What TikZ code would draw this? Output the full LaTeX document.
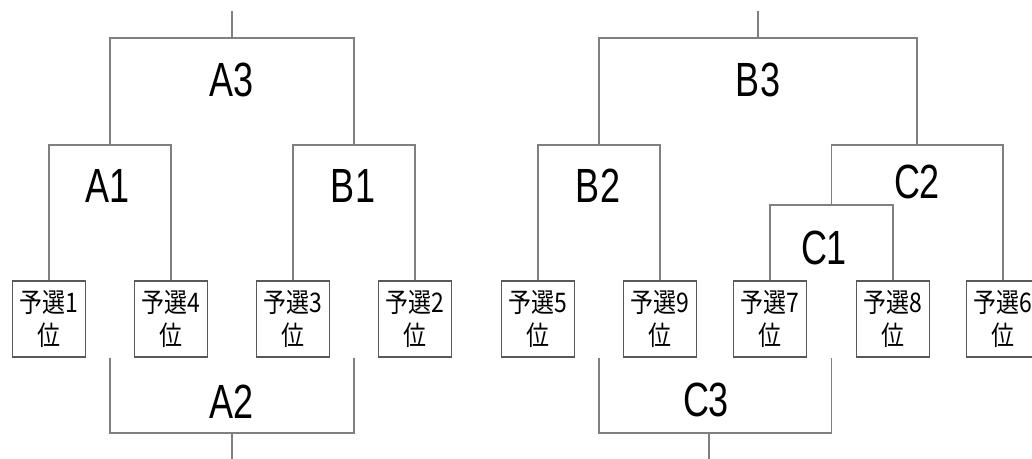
\documentclass[tikz,border=0pt]{standalone}
\usepackage{fontspec}
\newfontfamily\jpfont[FakeStretch=0.85]{Noto Sans CJK JP}
\newfontfamily\latfont[FakeStretch=0.75]{Liberation Sans}
\usetikzlibrary{positioning}

\begin{document}
\begin{tikzpicture}[
  x=0.5pt, y=-0.5pt,
  seed/.style={draw=black!65, line width=0.55pt, minimum width=36.5pt, minimum height=38pt, inner sep=0pt, align=center, font=\jpfont\fontsize{13.5}{16.5}\selectfont},
  lbl/.style={inner sep=0pt, font=\latfont\fontsize{24}{24}\selectfont},
  line/.style={draw=black!50, line width=0.7pt}
]
  \useasboundingbox (0,0) rectangle (1032,459);

  \node[seed] (s1) at (49,319) {予選1\\位};
  \node[seed] (s4) at (171,319) {予選4\\位};
  \node[seed] (s3) at (293,319) {予選3\\位};
  \node[seed] (s2) at (415,319) {予選2\\位};
  \node[seed] (s5) at (538,319) {予選5\\位};
  \node[seed] (s9) at (660,319) {予選9\\位};
  \node[seed] (s7) at (770,319) {予選7\\位};
  \node[seed] (s8) at (893,319) {予選8\\位};
  \node[seed] (s6) at (1003,319) {予選6\\位};

  \coordinate (a1) at (110,145);
  \coordinate (b1) at (354,145);
  \coordinate (a3) at (232,38);
  \coordinate (a2) at (232,433);
  \coordinate (topa) at (232,11);
  \coordinate (bota) at (232,459);

  \coordinate (b2) at (599,145);
  \coordinate (c1) at (831.5,205);
  \coordinate (c2) at (917,145);
  \coordinate (b3) at (758,38);
  \coordinate (c3) at (709,433);
  \coordinate (topb) at (758,11);
  \coordinate (botb) at (709,459);

  \node[lbl] (A3) at (232,80) {A3};
  \node[lbl] (A1) at (108,186) {A1};
  \node[lbl] (B1) at (353,186) {B1};
  \node[lbl] (A2) at (232,402) {A2};
  \node[lbl] (B3) at (758,80) {B3};
  \node[lbl] (B2) at (598,186) {B2};
  \node[lbl] (C2) at (917,182) {C2};
  \node[lbl] (C1) at (824,248) {C1};
  \node[lbl] (C3) at (706,400) {C3};

  \draw[line] (s1) |- (a1) -| (s4);
  \draw[line] (s3) |- (b1) -| (s2);
  \draw[line] (a1) |- (a3) -| (b1);
  \draw[line] (a3) -- (topa);
  \draw[line] (a1 |- s1.south) |- (a2) -| (b1 |- s1.south);
  \draw[line] (a2) -- (bota);

  \draw[line] (s5) |- (b2) -| (s9);
  \draw[line] (s7) |- (c1) -| (s8);
  \draw[line] (c1) |- (c2) -| (s6);
  \draw[line] (b2) |- (b3) -| (c2);
  \draw[line] (b3) -- (topb);
  \draw[line] (b2 |- s5.south) |- (c3) -| (c1 |- s5.south);
  \draw[line] (c3) -- (botb);
\end{tikzpicture}
\end{document}
